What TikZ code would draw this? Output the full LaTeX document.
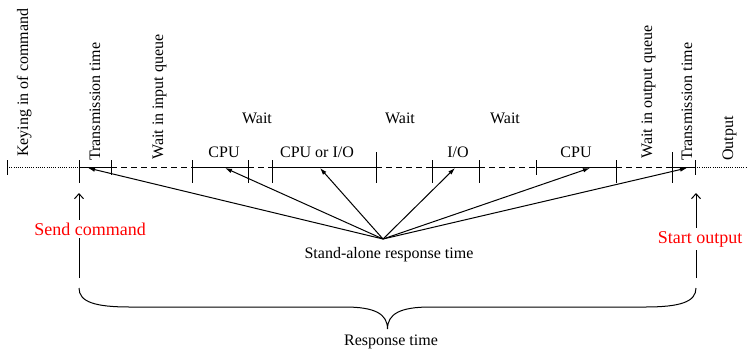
\documentclass[tikz,border=0pt]{standalone}
\usepackage{fontspec}
\setmainfont{Liberation Serif}
\usetikzlibrary{arrows.meta}
\begin{document}
\begin{tikzpicture}[x=1pt,y=-1pt,
  lbl/.style={font=\fontsize{16}{16}\selectfont, inner sep=0pt},
  vlbl/.style={lbl, rotate=90, anchor=base west},
  redlbl/.style={font=\fontsize{18}{18}\selectfont, text=red, fill=white, inner xsep=1pt, inner ysep=3pt, anchor=base},
  seg/.style={line width=1pt},
  waitseg/.style={seg, dash pattern=on 6pt off 4pt},
  idleseg/.style={seg, dash pattern=on 1pt off 1.2pt},
  ptr/.style={line width=1pt, -{Latex[length=7pt,width=4.5pt]}},
  uparrow/.style={line width=1pt, -{Straight Barb[length=5pt,width=9pt]}},
]
\useasboundingbox (0,0) rectangle (747,354);

% timeline marks
\coordinate (k0) at (7,167);
\coordinate (k1) at (79,167);
\coordinate (k2) at (111,167);
\coordinate (k3) at (192,167);
\coordinate (k4) at (248,167);
\coordinate (k5) at (272,167);
\coordinate (k6) at (376,167);
\coordinate (k7) at (432,167);
\coordinate (k8) at (479,167);
\coordinate (k9) at (536,167);
\coordinate (k10) at (616,167);
\coordinate (k11) at (672,167);
\coordinate (k12) at (695,167);
\coordinate (kend) at (747,167);

\draw[idleseg] (k0) -- (k1);
\draw[seg] (k1) -- (k2);
\draw[waitseg] (k2) -- (k3);
\draw[seg] (k3) -- (k4);
\draw[waitseg] (k4) -- (k5);
\draw[seg] (k5) -- (k6);
\draw[waitseg] (k6) -- (k7);
\draw[seg] (k7) -- (k8);
\draw[waitseg] (k8) -- (k9);
\draw[seg] (k9) -- (k10);
\draw[waitseg] (k10) -- (k11);
\draw[seg] (k11) -- (k12);
\draw[idleseg] (k12) -- (kend);

% ticks
\foreach \k in {k0,k2,k9,k12} \draw[seg] (\k) ++(0,-7) -- ++(0,15);
\foreach \k in {k1,k3,k4,k5,k7,k8,k10} \draw[seg] (\k) ++(0,-7) -- ++(0,23);
\foreach \k in {k6,k11} \draw[seg] (\k) ++(0,-15) -- ++(0,31);

% rotated labels
\node[vlbl] (keying) at (28,157) {Keying in of command};
\node[vlbl] (trin) at (100,161) {Transmission time};
\node[vlbl] (waitin) at (163,160) {Wait in input queue};
\node[vlbl] (waitout) at (652,159) {Wait in output queue};
\node[vlbl] (trout) at (692,161) {Transmission time};
\node[vlbl] (output) at (733,161) {Output};

% horizontal labels
\node[lbl, anchor=base] (wait1) at (257,123) {Wait};
\node[lbl, anchor=base] (wait2) at (400,123) {Wait};
\node[lbl, anchor=base] (wait3) at (505,123) {Wait};
\node[lbl, anchor=base] (cpu1) at (224,157) {CPU};
\node[lbl, anchor=base] (cpuio) at (317,157) {CPU or I/O};
\node[lbl, anchor=base] (io) at (458,157) {I/O};
\node[lbl, anchor=base] (cpu2) at (576,157) {CPU};

% stand-alone response time pointers
\coordinate (hub) at (383,239);
\coordinate (p1) at (88,168);
\coordinate (p2) at (225,168);
\coordinate (p3) at (320,168);
\coordinate (p4) at (455,168);
\coordinate (p5) at (590,168);
\coordinate (p6) at (687,168);
\foreach \p in {p1,p2,p3,p4,p5,p6} \draw[ptr] (hub) -- (\p);
\node[lbl, anchor=base] (sa) at (389,258) {Stand-alone response time};

% send / start arrows
\coordinate (sendbot) at (79,278);
\coordinate (sendtop) at (79,193);
\coordinate (startbot) at (696,278);
\coordinate (starttop) at (696,193);
\draw[uparrow] (sendbot) -- (sendtop);
\draw[uparrow] (startbot) -- (starttop);
\node[redlbl] (send) at (90,235) {Send command};
\node[redlbl] (start) at (700,243) {Start output};

% brace
\coordinate (bl) at (79,288);
\coordinate (br) at (696,288);
\coordinate (btip) at (387.5,329);
\draw[line width=1pt] (bl) .. controls (79,302) and (95,307) .. (130,307)
  -- (345,307) .. controls (375,307) and (387.5,314) .. (btip)
  .. controls (387.5,314) and (400,307) .. (430,307)
  -- (645,307) .. controls (680,307) and (696,302) .. (br);
\node[lbl, anchor=base] (rt) at (391,345) {Response time};
\end{tikzpicture}
\end{document}
